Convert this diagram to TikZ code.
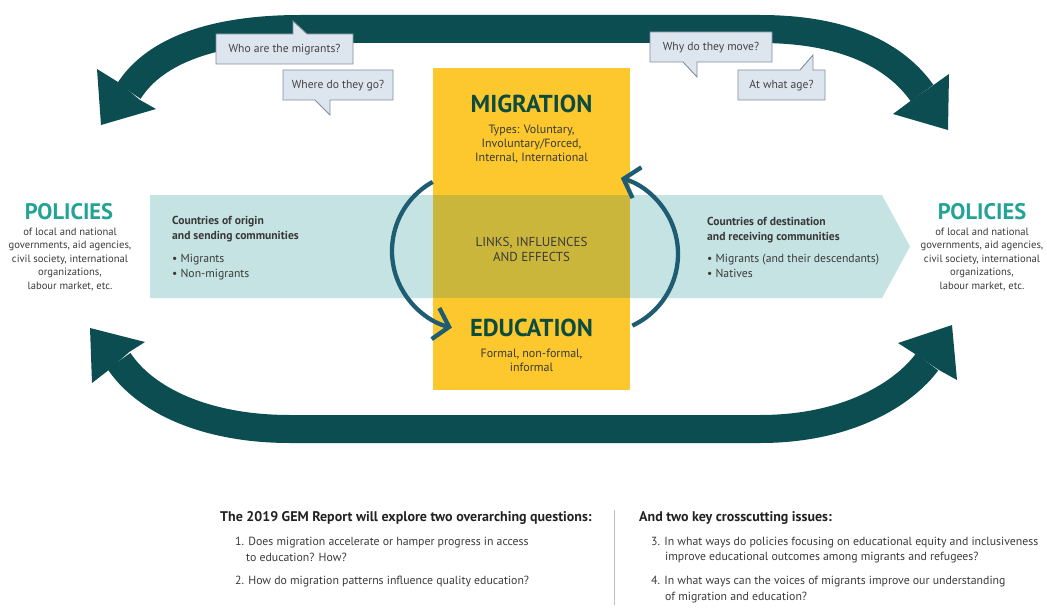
\documentclass[tikz,border=0pt]{standalone}
\usepackage{fontspec}
\setmainfont{PT Sans}
\usetikzlibrary{arrows.meta}
\definecolor{yel}{HTML}{FCC82E}
\definecolor{bandc}{HTML}{C5E3E2}
\definecolor{olivec}{HTML}{CBB63C}
\definecolor{darkc}{HTML}{0B4D50}
\definecolor{cycc}{HTML}{1E5C74}
\definecolor{polc}{HTML}{22A396}
\definecolor{ttlc}{HTML}{0E4B3F}
\definecolor{txtc}{HTML}{3A3A3A}
\definecolor{headc}{HTML}{222222}
\definecolor{bubfill}{HTML}{DDE5EE}
\definecolor{bubdraw}{HTML}{7F8E9E}
\tikzset{
  txt/.style={inner sep=0pt, text=txtc, anchor=base},
  ltxt/.style={inner sep=0pt, text=txtc, anchor=base west},
  poltitle/.style={inner sep=0pt, text=polc, anchor=base, font=\fontsize{22.5}{24}\selectfont\bfseries},
  poltext/.style={txt, font=\fontsize{10.6}{12}\selectfont},
  bigtitle/.style={inner sep=0pt, text=ttlc, anchor=base, font=\fontsize{24.5}{26}\selectfont\bfseries},
  subtext/.style={txt, font=\fontsize{12}{13}\selectfont},
  bandhead/.style={ltxt, text=headc!90, font=\fontsize{11.6}{13}\selectfont\bfseries},
  bandtext/.style={ltxt, font=\fontsize{11.7}{13}\selectfont},
  bubble/.style={fill=bubfill, draw=bubdraw, line width=0.9pt, line join=miter},
  bubtext/.style={txt, text=headc!85, font=\fontsize{11.6}{13}\selectfont},
  bigband/.style={draw=darkc, line width=28pt},
  bighead/.style={fill=darkc},
  cycarrow/.style={draw=cycc, line width=4.3pt, -{Straight Barb[length=14pt,width=32pt]}},
  qhead/.style={ltxt, text=headc, font=\fontsize{14}{15}\selectfont\bfseries},
  qtext/.style={ltxt, text=txtc, font=\fontsize{11.8}{13}\selectfont},
}
\begin{document}
\begin{tikzpicture}[x=1pt,y=-1pt]
\useasboundingbox (0,0) rectangle (1047,615);
% teal band
\fill[bandc] (150,195) -- (882,195) -- (910,246.5) -- (882,298) -- (150,298) -- cycle;
% yellow box
\fill[yel] (433,68) rectangle (630,390);
\fill[olivec] (433,195) rectangle (630,298);

% big top arrow
\draw[bigband] (129,91) .. controls (155,50) and (215,29) .. (300,29) -- (760,29) .. controls (855,29) and (900,62) .. (922,93);
\fill[bighead] (101,125) -- (156,109) -- (140,100) -- (118,82) -- (97,69) -- cycle;
\fill[bighead] (948,130) -- (893,114) -- (910.5,101) -- (933.5,85) -- (949,74) -- cycle;
% big bottom arrow
\draw[bigband] (119,361) .. controls (145,400) and (205,429) .. (290,429) -- (760,429) .. controls (850,429) and (905,392) .. (927,362);
\fill[bighead] (90,328) -- (145,342) -- (129.5,351.8) -- (108.5,370.2) -- (92,383) -- cycle;
\fill[bighead] (952,325) -- (898,343) -- (915.4,354.2) -- (938.6,369.8) -- (957,380) -- cycle;

% speech bubbles
\draw[bubble] (216,34) -- (293,34) -- (293,21) -- (307,34) -- (353,34) -- (353,64) -- (216,64) -- cycle;
\node[bubtext] (who) at (284.5,53) {Who are the migrants?};
\draw[bubble] (283,70) -- (393,70) -- (393,100) -- (330,100) -- (330,115) -- (315,100) -- (283,100) -- cycle;
\node[bubtext] (where) at (338,89) {Where do they go?};
\draw[bubble] (650,32) -- (772,32) -- (772,62) -- (697,62) -- (697,77) -- (683,62) -- (650,62) -- cycle;
\node[bubtext] (why) at (711,51) {Why do they move?};
\draw[bubble] (738,70) -- (800,70) -- (813,55) -- (813,70) -- (825,70) -- (825,100) -- (738,100) -- cycle;
\node[bubtext] (age) at (781.5,89) {At what age?};

% cycle arrows
\draw[cycarrow] ([shift={(241:79)}]471,251) arc (241:104:79);
\draw[cycarrow] ([shift={(65:79)}]599,254) arc (65:-74:79);

% center texts
\node[bigtitle] (mig) at (531.5,113) {MIGRATION};
\node[subtext] (mig1) at (531.5,133.5) {Types: Voluntary,};
\node[subtext] (mig2) at (531.5,147.5) {Involuntary/Forced,};
\node[subtext] (mig3) at (531.5,161.5) {Internal, International};
\node[txt, font=\fontsize{13}{14}\selectfont] (links1) at (531.5,246.5) {LINKS, INFLUENCES};
\node[txt, font=\fontsize{13}{14}\selectfont] (links2) at (531.5,261.5) {AND EFFECTS};
\node[bigtitle] (edu) at (531.5,336.5) {EDUCATION};
\node[subtext] (edu1) at (531.5,357.5) {Formal, non-formal,};
\node[subtext] (edu2) at (531.5,371.5) {informal};

% policies
\node[poltitle] (polL) at (69,219) {POLICIES};
\node[poltext] (polL1) at (70,235) {of local and national};
\node[poltext] (polL2) at (70,248.5) {governments, aid agencies,};
\node[poltext] (polL3) at (70,262) {civil society, international};
\node[poltext] (polL4) at (70,275.5) {organizations,};
\node[poltext] (polL5) at (70,289) {labour market, etc.};
\node[poltitle] (polR) at (982,219) {POLICIES};
\node[poltext] (polR1) at (982,235) {of local and national};
\node[poltext] (polR2) at (982,248.5) {governments, aid agencies,};
\node[poltext] (polR3) at (982,262) {civil society, international};
\node[poltext] (polR4) at (982,275.5) {organizations,};
\node[poltext] (polR5) at (982,289) {labour market, etc.};

% band texts
\node[bandhead] (origA) at (172,224.5) {Countries of origin};
\node[bandhead] (origB) at (172,239.5) {and sending communities};
\node[bandtext] (origC) at (172,262) {• Migrants};
\node[bandtext] (origD) at (172,277) {• Non-migrants};
\node[bandhead] (destA) at (707,225) {Countries of destination};
\node[bandhead] (destB) at (707,240) {and receiving communities};
\node[bandtext] (destC) at (707,262) {• Migrants (and their descendants)};
\node[bandtext] (destD) at (707,277) {• Natives};

% bottom questions
\node[qhead] (qh1) at (220,521.5) {The 2019 GEM Report will explore two overarching questions:};
\node[qtext] (q1a) at (235,545) {1. Does migration accelerate or hamper progress in access};
\node[qtext] (q1b) at (246,561.5) {to education? How?};
\node[qtext] (q2) at (235,584) {2. How do migration patterns influence quality education?};
\draw[black!25, line width=0.8pt] (614,510) -- (614,605);
\node[qhead] (qh2) at (639,521.5) {And two key crosscutting issues:};
\node[qtext] (q3a) at (651,545) {3. In what ways do policies focusing on educational equity and inclusiveness};
\node[qtext] (q3b) at (665,560.5) {improve educational outcomes among migrants and refugees?};
\node[qtext] (q4a) at (651,584) {4. In what ways can the voices of migrants improve our understanding};
\node[qtext] (q4b) at (665,600) {of migration and education?};
\end{tikzpicture}
\end{document}
